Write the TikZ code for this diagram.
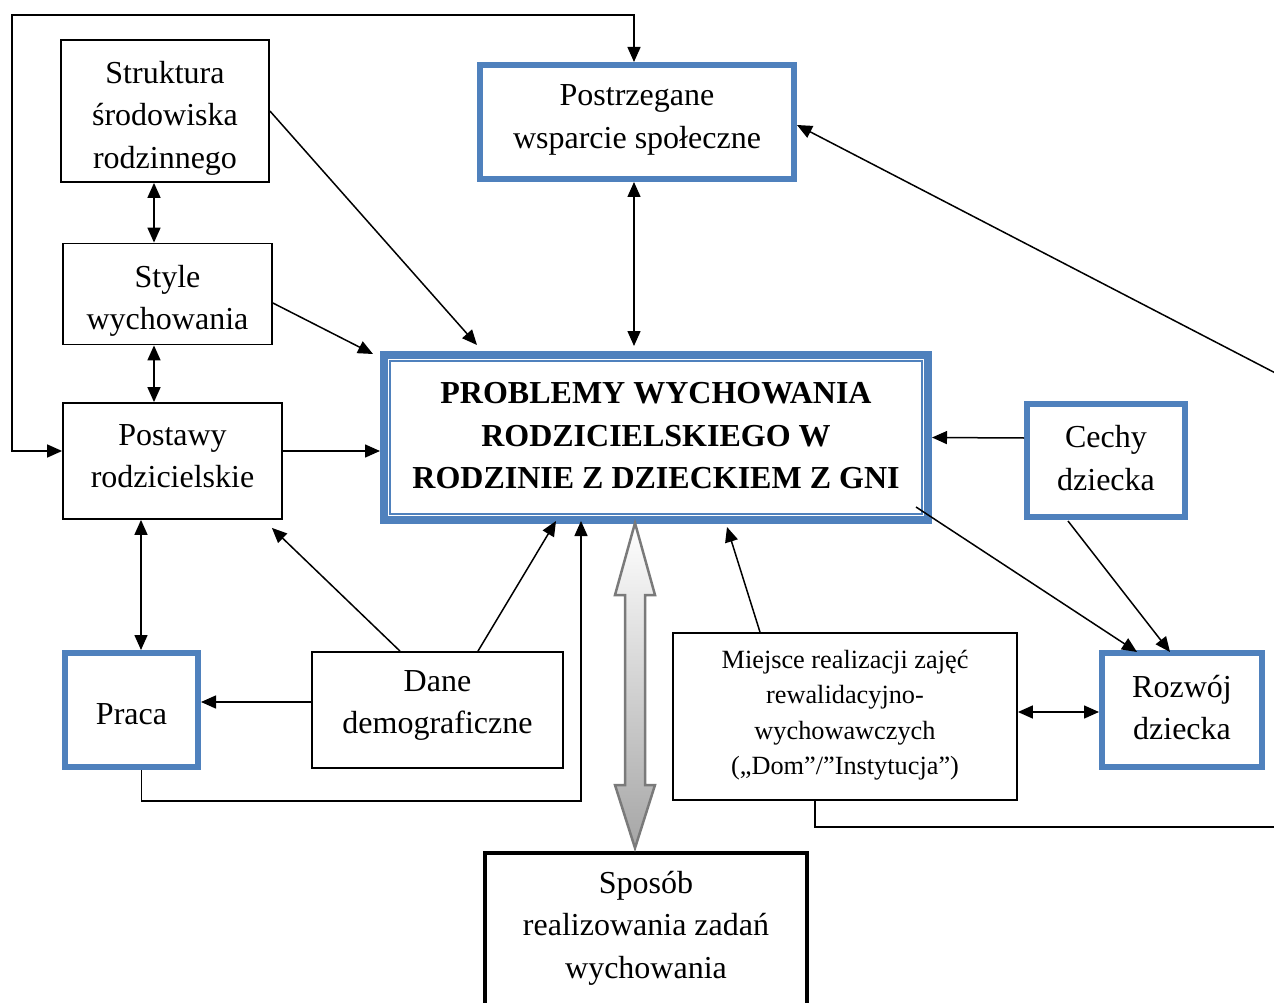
\documentclass[tikz,border=0pt]{standalone}
\usepackage{fontspec}
\setmainfont{Liberation Serif}
\usetikzlibrary{arrows.meta,calc}
\definecolor{boxblue}{HTML}{4F81BD}
\definecolor{arrgray}{HTML}{7A7A7A}
% extra depth below the last line, moves a label upwards in its box
\newcommand{\dpad}[1]{\rule[-#1pt]{0pt}{#1pt}}
% extra height above the first line, moves a label downwards in its box
\newcommand{\upad}[1]{\rule{0pt}{#1pt}}
\begin{document}
\begin{tikzpicture}[x=1pt,y=-1pt,
  plainbox/.style={draw=black, line width=1.8pt, align=center, inner sep=0pt,
    font=\fontsize{32}{42.5}\selectfont},
  bluebox/.style={draw=boxblue, line width=6pt, align=center, inner sep=0pt,
    font=\fontsize{32}{42.5}\selectfont},
  arr/.style={line width=1.5pt, -{Triangle[length=15pt,width=13pt]}},
  darr/.style={line width=1.5pt, {Triangle[length=15pt,width=13pt]}-{Triangle[length=15pt,width=13pt]}},
  line/.style={line width=1.5pt}]
\useasboundingbox (0,0) rectangle (1274,1003);
\clip (0,0) rectangle (1274,1003);

% boxes
\node[plainbox, minimum width=208pt, minimum height=142pt] (struk) at (165,111)
  {\upad{36}Struktura\\środowiska\\rodzinnego};
\node[bluebox, minimum width=314pt, minimum height=114pt] (postrz) at (637,122)
  {Postrzegane\\wsparcie społeczne\dpad{11}};
\node[plainbox, minimum width=209pt, minimum height=101pt] (style) at (167.5,294)
  {\upad{36}Style\\wychowania};
\node[plainbox, minimum width=219pt, minimum height=116pt] (postawy) at (172.5,461)
  {Postawy\\rodzicielskie\dpad{10}};
\node[draw=boxblue, line width=8pt, minimum width=544pt, minimum height=165pt,
  align=center, inner sep=0pt, font=\fontsize{32}{42.5}\selectfont\bfseries]
  (central) at (656,437.5)
  {PROBLEMY WYCHOWANIA\\RODZICIELSKIEGO W\\RODZINIE Z DZIECKIEM Z GNI\dpad{4}};
\draw[draw=boxblue, line width=1.6pt]
  ([shift={(10,10)}]central.north west) rectangle ([shift={(-10,-10)}]central.south east);
\node[bluebox, minimum width=158pt, minimum height=113pt] (cechy) at (1106,460.5)
  {Cechy\\dziecka\dpad{5}};
\node[bluebox, minimum width=133pt, minimum height=114pt] (praca) at (131.5,710)
  {\upad{30}Praca};
\node[plainbox, minimum width=251pt, minimum height=116pt] (dane) at (437.5,710)
  {Dane\\demograficzne\dpad{16}};
\node[plainbox, minimum width=344pt, minimum height=167pt,
  font=\fontsize{26.3}{35.5}\selectfont] (miejsce) at (845,716.5)
  {Miejsce realizacji zajęć\\rewalidacyjno-\\wychowawczych\\(„Dom”/”Instytucja”)\dpad{8}};
\node[bluebox, minimum width=160pt, minimum height=114pt] (rozwoj) at (1182,710)
  {Rozwój\\dziecka\dpad{5}};
\node[draw=black, line width=3.5pt, minimum width=322pt, minimum height=250pt,
  anchor=north, inner sep=0pt] (sposob) at (646,851) {};
\node[align=center, inner sep=0pt, font=\fontsize{32}{42.5}\selectfont]
  (sposobtxt) at ([shift={(0,77)}]sposob.north)
  {Sposób\\realizowania zadań\\wychowania};

% free ends and bends of connectors
\coordinate (loopA) at (12,451);
\coordinate (loopB) at (12,15);
\coordinate (loopC) at (634,15);
\coordinate (rtop) at (1285,378);
\coordinate (rbot) at (1285,827);
\coordinate (pc) at (581,801);

% connectors
\draw[darr] ([shift={(0,-10)}]postawy.west) -- (loopA) -- (loopB) -- (loopC)
  -- ([shift={(-3,0)}]postrz.north);
\draw[darr] ([shift={(-11,0)}]struk.south) -- ([shift={(-13.5,0)}]style.north);
\draw[darr] ([shift={(-13.5,0)}]style.south) -- ([shift={(-18.5,0)}]postawy.north);
\draw[arr] (struk.east) -- ([shift={(97,-6)}]central.north west);
\draw[arr] ([shift={(0,9)}]style.east) -- ([shift={(-7,3)}]central.north west);
\draw[arr] ([shift={(0,-10)}]postawy.east) -- ([shift={(0,13.5)}]central.west);
\draw[darr] ([shift={(-3,0)}]postrz.south) -- ([shift={(-22,-5)}]central.north);
\draw[arr] (rtop) -- ([shift={(0,3)}]postrz.east);
\draw[arr] ([shift={(0,-22.5)}]cechy.west) -- (central.east);
\draw[arr] ([shift={(-16,-17)}]central.south east) -- ([shift={(38,2)}]rozwoj.north west);
\draw[arr] ([shift={(-38,1)}]cechy.south) -- ([shift={(-12,2)}]rozwoj.north);
\draw[darr] ([shift={(0,-4.5)}]miejsce.east) -- ([shift={(0,2)}]rozwoj.west);
\draw[arr] ([shift={(-85,0)}]miejsce.north) -- ([shift={(71,3)}]central.south);
\draw[line] ([shift={(-30,0)}]miejsce.south) |- (rbot);
\draw[darr] ([shift={(-31.5,0)}]postawy.south) -- ([shift={(9.5,0)}]praca.north);
\draw[arr] ([shift={(0,-8)}]dane.west) -- ([shift={(0,-8)}]praca.east);
\draw[arr] ([shift={(-37.5,0)}]dane.north) -- ([shift={(-11,8)}]postawy.south east);
\draw[arr] ([shift={(40.5,0)}]dane.north) -- ([shift={(176,-3)}]central.south west);
\draw[arr] ([shift={(10,0)}]praca.south) |- (pc) -- ([shift={(201,-3)}]central.south west);

% broad shaded double arrow between the central box and the bottom box
\coordinate (ua) at ([shift={(-21,-1)}]central.south);
\coordinate (da) at ([shift={(-11,-3)}]sposob.north);
\begin{scope}[shift={(4,5)}]
\fill[gray!45] (ua) -- ($(ua)+(20,72)$) -- ($(ua)+(10,72)$) -- ($(da)+(10,-63)$)
  -- ($(da)+(20,-63)$) -- (da) -- ($(da)+(-20,-63)$) -- ($(da)+(-10,-63)$)
  -- ($(ua)+(-10,72)$) -- ($(ua)+(-20,72)$) -- cycle;
\end{scope}
\shade[top color=white, bottom color=gray!70, draw=arrgray, line width=2.5pt,
  line join=miter]
  (ua) -- ($(ua)+(20,72)$) -- ($(ua)+(10,72)$) -- ($(da)+(10,-63)$)
  -- ($(da)+(20,-63)$) -- (da) -- ($(da)+(-20,-63)$) -- ($(da)+(-10,-63)$)
  -- ($(ua)+(-10,72)$) -- ($(ua)+(-20,72)$) -- cycle;
\end{tikzpicture}
\end{document}
